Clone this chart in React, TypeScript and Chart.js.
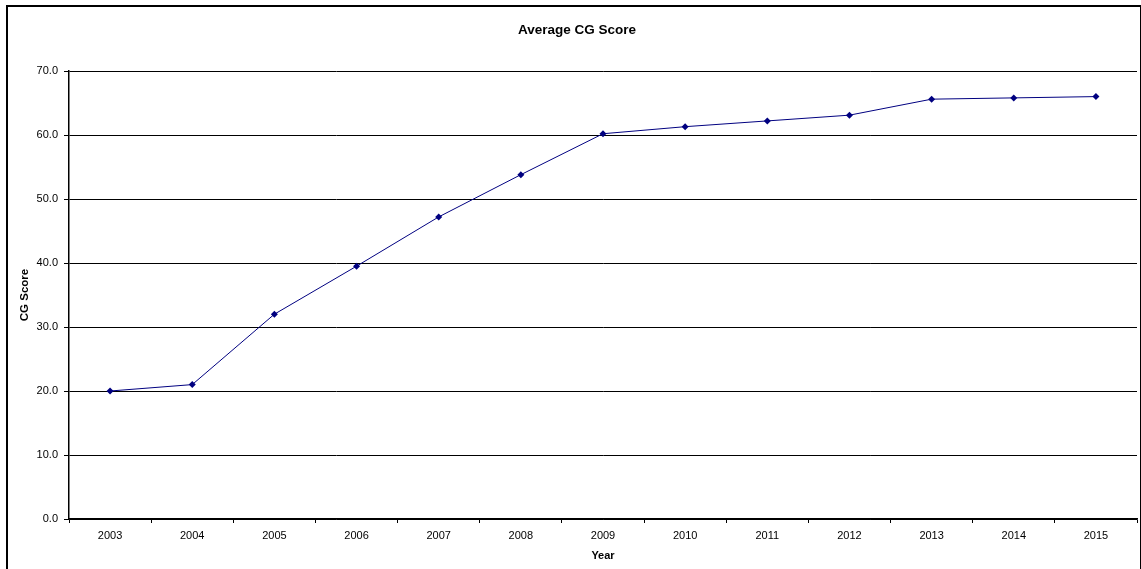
import React, { useEffect, useRef } from "react";
import { Chart, registerables } from "chart.js";

Chart.register(...registerables);

const years: string[] = ["2003", "2004", "2005", "2006", "2007", "2008", "2009", "2010", "2011", "2012", "2013", "2014", "2015"];
const cgScores: number[] = [20.0, 21.0, 32.0, 39.5, 47.2, 53.8, 60.2, 61.3, 62.2, 63.1, 65.6, 65.8, 66.0];

const chartTitle = "Average CG Score";
const xTitle = "Year";
const yTitle = "CG Score";

const FONT = "'Liberation Sans', Arial, sans-serif";

const decorPlugin = {
  id: "decor",
  afterDraw(chart: any) {
    const ctx = chart.ctx as CanvasRenderingContext2D;
    const area = chart.chartArea;
    ctx.save();
    // outer frame
    ctx.strokeStyle = "#000";
    ctx.lineWidth = 2;
    ctx.strokeRect(7, 6, 1134, 580);
    // title
    ctx.fillStyle = "#000";
    ctx.textAlign = "center";
    ctx.textBaseline = "middle";
    ctx.font = `bold 13.5px ${FONT}`;
    ctx.fillText(chartTitle, 577, 30);
    // x title
    ctx.font = `bold 11px ${FONT}`;
    ctx.fillText(xTitle, (area.left + area.right) / 2, 556);
    // y title
    ctx.translate(25, (area.top + area.bottom) / 2);
    ctx.rotate(-Math.PI / 2);
    ctx.font = `bold 11.5px ${FONT}`;
    ctx.fillText(yTitle, 0, 0);
    ctx.restore();
  },
};

export default function App() {
  const ref = useRef<HTMLCanvasElement | null>(null);
  useEffect(() => {
    if (!ref.current) return;
    const chart = new Chart(ref.current, {
      type: "line",
      data: {
        labels: years,
        datasets: [
          {
            data: cgScores,
            borderColor: "#000080",
            backgroundColor: "#000080",
            borderWidth: 1,
            pointStyle: "rectRot",
            pointRadius: 3.5,
            pointBorderWidth: 0,
            pointBackgroundColor: "#000080",
            tension: 0,
          },
        ],
      },
      options: {
        responsive: false,
        animation: false,
        layout: { padding: { top: 71, right: 1, left: 0, bottom: 0 } },
        plugins: {
          legend: { display: false },
          title: { display: false },
          tooltip: { enabled: false },
        },
        scales: {
          x: {
            offset: true,
            grid: {
              offset: true,
              drawOnChartArea: false,
              drawTicks: true,
              tickLength: 4,
              color: "#000",
            },
            border: { display: true, color: "#000", width: 1.5 },
            ticks: {
              color: "#000",
              font: { family: FONT, size: 11 },
              padding: 6,
              maxRotation: 0,
              autoSkip: false,
            },
            afterFit: (s: any) => {
              s.height = 50;
              s.paddingLeft = 0;
              s.paddingRight = 0;
            },
          },
          y: {
            min: 0,
            max: 70,
            grid: {
              color: "#000",
              lineWidth: 1,
              tickLength: 5,
            },
            border: { display: true, color: "#000", width: 1.5 },
            ticks: {
              stepSize: 10,
              color: "#000",
              font: { family: FONT, size: 11 },
              padding: 6,
              callback: (v: any) => Number(v).toFixed(1),
            },
            afterFit: (s: any) => {
              s.width = 69;
              s.paddingTop = 0;
              s.paddingBottom = 0;
            },
          },
        },
      },
      plugins: [decorPlugin],
    });
    return () => chart.destroy();
  }, []);
  return (
    <div style={{ position: "absolute", left: 0, top: 0, width: 1141, height: 569, background: "#fff" }}>
      <canvas ref={ref} width={1141} height={569} style={{ display: "block" }} />
    </div>
  );
}
